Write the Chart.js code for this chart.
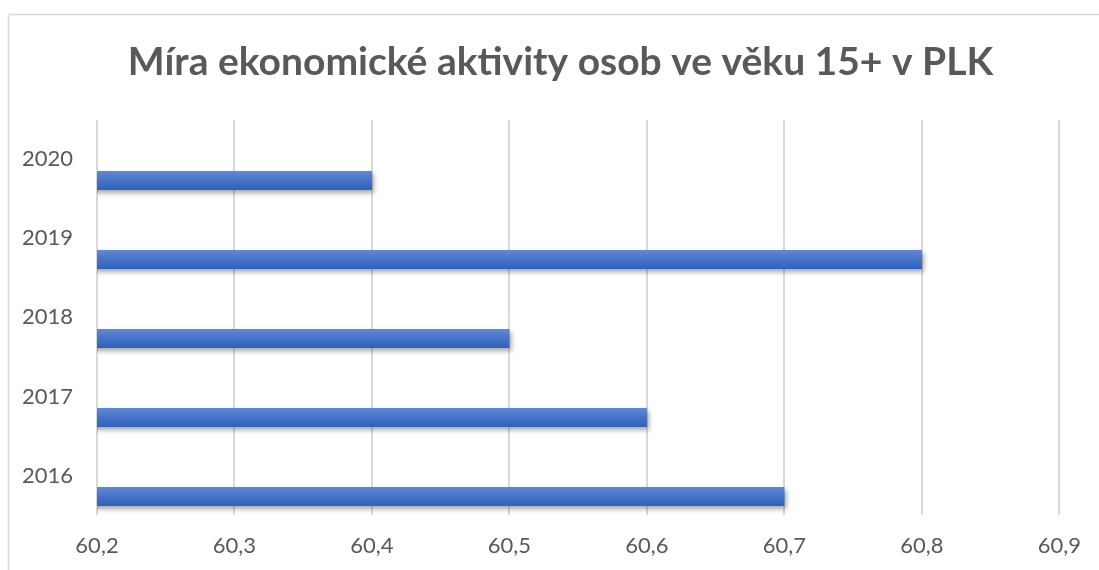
<!DOCTYPE html>
<html>
<head>
<meta charset="utf-8">
<script src="https://cdn.jsdelivr.net/npm/chart.js@4"></script>
<style>
  html, body { margin: 0; padding: 0; background: #fff; }
  #wrap { width: 1099px; height: 570px; }
</style>
</head>
<body>
<div id="wrap"><canvas id="aktivitaChart" width="1099" height="570"></canvas></div>
<script>
// Míra ekonomické aktivity osob ve věku 15+ v PLK
const years = ["2020", "2019", "2018", "2017", "2016"];
const rate = [60.4, 60.8, 60.5, 60.6, 60.7];
const xMin = 60.2, xMax = 60.9, xStep = 0.1;

const FONT = "Lato, 'Open Sans', sans-serif";
const TEXT = "#595959";

// frame of the chart object (only top and left edge visible)
const framePlugin = {
    id: "frame",
    beforeDraw(chart) {
        const c = chart.ctx;
        c.save();
        c.strokeStyle = "#d9d9d9";
        c.lineWidth = 1.5;
        c.beginPath();
        c.moveTo(8.5, chart.height);
        c.lineTo(8.5, 14.5);
        c.lineTo(chart.width, 14.5);
        c.stroke();
        c.restore();
    },
    // the title in the original sits centred on the whole object, not the left part
    afterLayout(chart) {
        if (chart.titleBlock) chart.titleBlock.left = 60;
    }
};

// gradient fill + soft shadow on the bars
const barLook = {
    id: "barLook",
    beforeDatasetsDraw(chart) {
        const c = chart.ctx;
        chart.data.datasets.forEach((ds, i) => {
            chart.getDatasetMeta(i).data.forEach(bar => {
                const h = bar.height / 2;
                const g = c.createLinearGradient(0, bar.y - h, 0, bar.y + h);
                g.addColorStop(0, "#6189d4");
                g.addColorStop(0.5, "#4673c8");
                g.addColorStop(1, "#2f62bd");
                bar.options = Object.assign({}, bar.options, { backgroundColor: g });
            });
        });
        c.save();
        c.shadowColor = "rgba(0,0,0,0.35)";
        c.shadowBlur = 5;
        c.shadowOffsetX = 2;
        c.shadowOffsetY = 3;
    },
    afterDatasetsDraw(chart) {
        chart.ctx.restore();
    }
};

new Chart(document.getElementById("aktivitaChart"), {
    type: "bar",
    data: {
        labels: years,
        datasets: [
            // two empty series keep the bar in the lower part of each slot, as in the original
            { label: "", data: [] },
            { label: "", data: [] },
            { label: "Míra ekonomické aktivity", data: rate, borderWidth: 0 }
        ]
    },
    options: {
        indexAxis: "y",
        responsive: false,
        animation: false,
        categoryPercentage: 0.8,
        barPercentage: 0.9,
        layout: { padding: { left: 0, right: 38, top: 0, bottom: 0 } },
        plugins: {
            legend: { display: false },
            tooltip: { enabled: false },
            title: {
                display: true,
                text: "Míra ekonomické aktivity osob ve věku 15+ v PLK",
                color: TEXT,
                font: { family: FONT, size: 39, weight: "bold" },
                padding: { top: 39, bottom: 34 }
            }
        },
        scales: {
            x: {
                min: xMin, max: xMax,
                ticks: {
                    stepSize: xStep,
                    color: TEXT,
                    font: { family: FONT, size: 22 },
                    padding: 18,
                    callback: v => v.toFixed(1).replace(".", ",")
                },
                grid: { color: "#d9d9d9", lineWidth: 2, drawTicks: false },
                border: { display: false },
                afterFit: s => { s.height = 55; }
            },
            y: {
                ticks: {
                    color: TEXT,
                    font: { family: FONT, size: 22 },
                    padding: 24
                },
                grid: { display: false, drawTicks: false },
                border: { display: false },
                afterFit: s => { s.width = 97; }
            }
        }
    },
    plugins: [framePlugin, barLook]
});
</script>
</body>
</html>
